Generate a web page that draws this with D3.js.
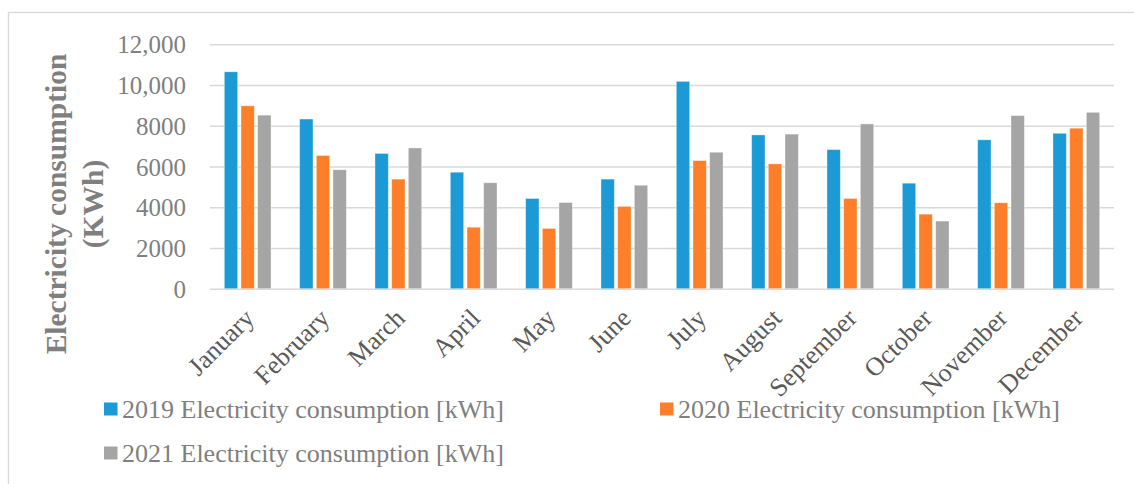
<!DOCTYPE html>
<html>
<head>
<meta charset="utf-8">
<script src="https://cdn.jsdelivr.net/npm/d3@7"></script>
<style>
  html, body { margin: 0; padding: 0; background: #fff; }
  svg { display: block; }
</style>
</head>
<body>
<svg id="chart" width="1134" height="484"></svg>
<script>
// Monthly electricity consumption, kWh
const months = ["January", "February", "March", "April", "May", "June",
                "July", "August", "September", "October", "November", "December"];
const series = ["2019 Electricity consumption [kWh]",
                "2020 Electricity consumption [kWh]",
                "2021 Electricity consumption [kWh]"];
const values2019 = [10650, 8330, 6640, 5720, 4430, 5380, 10180, 7550, 6830, 5180, 7310, 7630];
const values2020 = [8980, 6540, 5380, 3020, 2960, 4040, 6290, 6130, 4430, 3660, 4220, 7880];
const values2021 = [8520, 5840, 6910, 5200, 4230, 5080, 6700, 7590, 8090, 3320, 8500, 8660];
const yTicks = [0, 2000, 4000, 6000, 8000, 10000, 12000];
const colors = ["#1b9ad6", "#fe7f2a", "#a5a5a5"];

const seriesValues = [values2019, values2020, values2021];

const svg = d3.select("#chart");
const serif = "'Liberation Serif', 'Times New Roman', serif";

// outer chart-area frame
svg.append("rect")
  .attr("x", 8.5).attr("y", 12.5)
  .attr("width", 1140).attr("height", 500)
  .attr("fill", "none").attr("stroke", "#d9d9d9").attr("stroke-width", 1.3);

const plot = { left: 210, right: 1114, top: 44.3, bottom: 288.7 };

const y = d3.scaleLinear().domain([0, 12000]).range([plot.bottom, plot.top]);
const x0 = d3.scaleBand().domain(months).range([plot.left, plot.right]).padding(0);
const groupW = x0.bandwidth() * 0.62;
const x1 = d3.scaleBand().domain(d3.range(series.length)).range([0, groupW])
  .paddingInner(0.2).paddingOuter(0);
const groupOffset = (x0.bandwidth() - groupW) / 2;

// gridlines
const yAxis = d3.axisLeft(y).tickValues(yTicks)
  .tickSize(-(plot.right - plot.left))
  .tickFormat(d => d >= 10000 ? d3.format(",")(d) : String(d));

const gy = svg.append("g")
  .attr("transform", `translate(${plot.left},0)`)
  .call(yAxis);
gy.select(".domain").remove();
gy.selectAll(".tick line")
  .attr("stroke", "#d9d9d9").attr("stroke-width", 1.6);
gy.selectAll(".tick text")
  .attr("x", -24)
  .attr("dy", "0.34em")
  .attr("fill", "#7f7f7f")
  .style("font-family", serif)
  .style("font-size", "25px");

// bars
const groups = svg.append("g").selectAll("g")
  .data(months)
  .join("g")
  .attr("transform", m => `translate(${x0(m) + groupOffset},0)`);

groups.selectAll("rect")
  .data((m, i) => seriesValues.map((vals, s) => ({ s, v: vals[i] })))
  .join("rect")
  .attr("x", d => x1(d.s))
  .attr("width", x1.bandwidth())
  .attr("y", d => y(d.v))
  .attr("height", d => y(0) - y(d.v))
  .attr("fill", d => colors[d.s])
  .attr("stroke", "#ffffff").attr("stroke-opacity", 0.45).attr("stroke-width", 0.8);

// category labels, rotated
const xAxis = d3.axisBottom(x0).tickSize(0).tickPadding(0);
const gx = svg.append("g")
  .attr("transform", `translate(0,${plot.bottom})`)
  .call(xAxis);
gx.select(".domain").remove();
gx.selectAll(".tick text")
  .attr("text-anchor", "end")
  .attr("dy", 0)
  .attr("y", 0)
  .attr("transform", "translate(8,31) rotate(-45)")
  .attr("fill", "#595959")
  .style("font-family", serif)
  .style("font-size", "26px");

// y-axis title
const title = svg.append("text")
  .attr("transform", "translate(0,204) rotate(-90)")
  .attr("text-anchor", "middle")
  .attr("fill", "#7f7f7f")
  .style("font-family", serif)
  .style("font-size", "29.5px")
  .style("font-weight", "bold");
title.append("tspan").attr("x", 0).attr("y", 66).text("Electricity consumption");
title.append("tspan").attr("x", 0).attr("y", 103).text("(KWh)");

// legend
const legendPos = [
  { x: 104, y: 418 },
  { x: 660, y: 418 },
  { x: 104, y: 462 }
];
const legend = svg.append("g").selectAll("g")
  .data(series)
  .join("g")
  .attr("transform", (d, i) => `translate(${legendPos[i].x},${legendPos[i].y})`);
legend.append("rect")
  .attr("x", 0).attr("y", -15.5)
  .attr("width", 13.5).attr("height", 13)
  .attr("fill", (d, i) => colors[i]);
legend.append("text")
  .attr("x", 18).attr("y", 0)
  .attr("fill", "#7f7f7f")
  .style("font-family", serif)
  .style("font-size", "26px")
  .text(d => d);
</script>
</body>
</html>
